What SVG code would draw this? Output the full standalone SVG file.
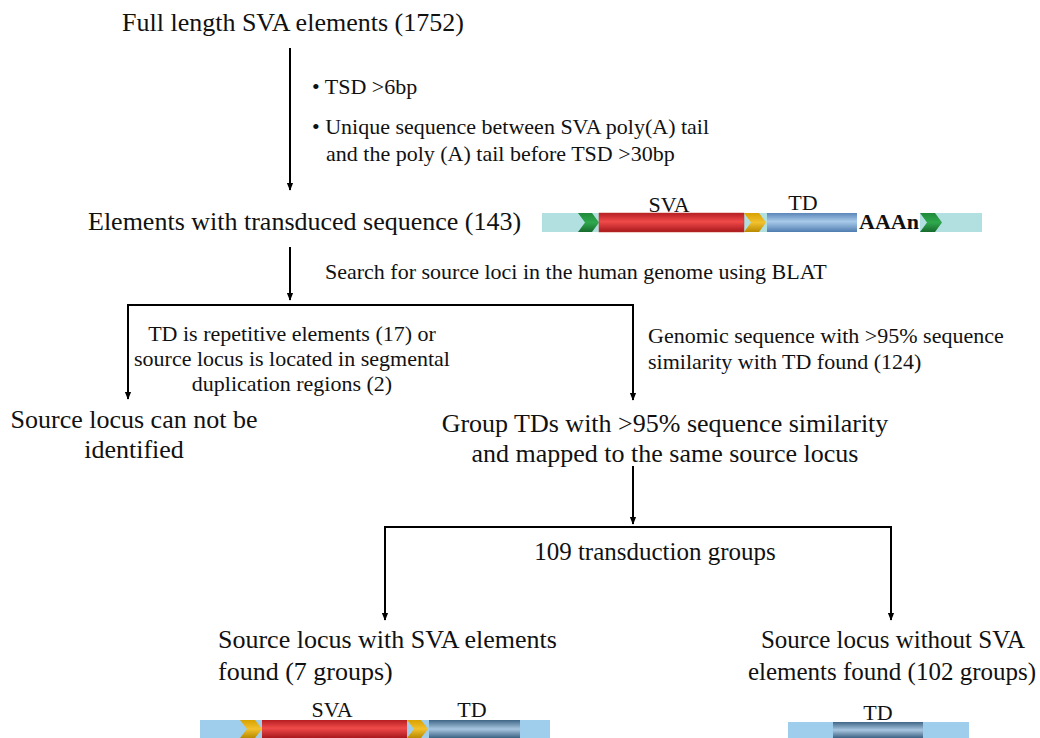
<svg xmlns="http://www.w3.org/2000/svg" width="1040" height="738" viewBox="0 0 1040 738">
<defs>
<style>
text{font-family:"Liberation Serif","Times New Roman",serif;fill:#111}
.big{font-size:26px}
.big2{font-size:25px}
.lbl{font-size:22px}
.bold{font-weight:bold}
.ln{stroke:#000;stroke-width:2;fill:none}
</style>
<marker id="ah" viewBox="0 0 10 10" refX="9" refY="5" markerWidth="8" markerHeight="8" orient="auto" markerUnits="userSpaceOnUse">
<path d="M0,1 L10,5 L0,9 z" fill="#000"/>
</marker>
<linearGradient id="red" x1="0" y1="0" x2="0" y2="1">
<stop offset="0" stop-color="#b51e22"/><stop offset="0.45" stop-color="#f04a4a"/><stop offset="1" stop-color="#a8181c"/>
</linearGradient>
<linearGradient id="blue" x1="0" y1="0" x2="0" y2="1">
<stop offset="0" stop-color="#5a86b8"/><stop offset="0.45" stop-color="#a9cbea"/><stop offset="1" stop-color="#4f7caf"/>
</linearGradient>
<linearGradient id="steel" x1="0" y1="0" x2="0" y2="1">
<stop offset="0" stop-color="#3f6687"/><stop offset="0.5" stop-color="#a8c6e0"/><stop offset="1" stop-color="#3c6283"/>
</linearGradient>
<linearGradient id="green" x1="0" y1="0" x2="0" y2="1">
<stop offset="0" stop-color="#1f8a3a"/><stop offset="0.5" stop-color="#2fa84d"/><stop offset="1" stop-color="#176b2d"/>
</linearGradient>
<linearGradient id="yellow" x1="0" y1="0" x2="0" y2="1">
<stop offset="0" stop-color="#d9a200"/><stop offset="0.5" stop-color="#f2c12e"/><stop offset="1" stop-color="#b98a00"/>
</linearGradient>
</defs>
<rect width="1040" height="738" fill="#fff"/>

<g id="connectors">
<line class="ln" x1="290" y1="48" x2="290" y2="190" marker-end="url(#ah)"/>
<line class="ln" x1="290" y1="247" x2="290" y2="300" marker-end="url(#ah)"/>
<path class="ln" d="M128,305 H633"/>
<line class="ln" x1="128" y1="304" x2="128" y2="399" marker-end="url(#ah)"/>
<line class="ln" x1="633" y1="304" x2="633" y2="400" marker-end="url(#ah)"/>
<line class="ln" x1="633" y1="466" x2="633" y2="524" marker-end="url(#ah)"/>
<path class="ln" d="M385,527 H891"/>
<line class="ln" x1="385" y1="526" x2="385" y2="620" marker-end="url(#ah)"/>
<line class="ln" x1="891" y1="526" x2="891" y2="620" marker-end="url(#ah)"/>
</g>

<g id="n-full">
<text class="big" x="122" y="31">Full length SVA elements (1752)</text>
</g>
<g id="l-filter">
<text class="lbl" x="312" y="94">• TSD &gt;6bp</text>
<text class="lbl" x="312" y="134">• Unique sequence between SVA poly(A) tail</text>
<text class="lbl" x="326" y="161">and the poly (A) tail before TSD &gt;30bp</text>
</g>
<g id="n-elements">
<text class="big" x="88" y="230">Elements with transduced sequence (143)</text>
</g>
<g id="fig-top">
<rect x="542" y="213" width="440" height="19" fill="#b2dfe0"/>
<polygon points="578,213 592,213 599,222.5 592,232 578,232 585,222.5" fill="url(#green)"/>
<rect x="599" y="213" width="145" height="19" fill="url(#red)" stroke="#c0392b" stroke-width="0.5"/>
<polygon points="744,213 759,213 766,222.5 759,232 744,232 751,222.5" fill="url(#yellow)"/>
<rect x="767" y="213" width="90" height="19" fill="url(#blue)"/>
<rect x="857" y="213" width="63" height="19" fill="#fff"/>
<text class="lbl bold" x="889" y="229" text-anchor="middle">AAAn</text>
<polygon points="920,213 935,213 942,222.5 935,232 920,232 927,222.5" fill="url(#green)"/>
<text class="lbl" x="669" y="212" text-anchor="middle">SVA</text>
<text class="lbl" x="803" y="210" text-anchor="middle">TD</text>
</g>
<g id="l-search">
<text class="lbl" x="325" y="279">Search for source loci in the human genome using BLAT</text>
</g>
<g id="l-left">
<text class="lbl" x="292" y="341" text-anchor="middle">TD is repetitive elements (17) or</text>
<text class="lbl" x="292" y="366" text-anchor="middle">source locus is located in segmental</text>
<text class="lbl" x="292" y="391" text-anchor="middle">duplication regions (2)</text>
</g>
<g id="n-unid">
<text class="big" x="134" y="428" text-anchor="middle">Source locus can not be</text>
<text class="big" x="134" y="458" text-anchor="middle">identified</text>
</g>
<g id="l-right">
<text class="lbl" x="648" y="343">Genomic sequence with &gt;95% sequence</text>
<text class="lbl" x="648" y="369">similarity with TD found  (124)</text>
</g>
<g id="n-group">
<text class="big" x="665" y="432" text-anchor="middle">Group TDs with &gt;95% sequence similarity</text>
<text class="big" x="665" y="462" text-anchor="middle">and mapped to the same source locus</text>
</g>
<g id="l-109">
<text class="big2" x="655" y="560" text-anchor="middle">109 transduction groups</text>
</g>
<g id="n-with">
<text class="big" x="218" y="648">Source locus with SVA elements</text>
<text class="big" x="218" y="680">found (7 groups)</text>
</g>
<g id="n-without">
<text class="big2" x="893" y="648" text-anchor="middle">Source locus without SVA</text>
<text class="big2" x="892" y="680" text-anchor="middle">elements found (102 groups)</text>
</g>
<g id="fig-left">
<rect x="200" y="720" width="350" height="18" fill="#9fcdec"/>
<polygon points="240,720 255,720 262,729 255,738 240,738 247,729" fill="url(#yellow)"/>
<rect x="262" y="720" width="145" height="18" fill="url(#red)"/>
<polygon points="407,720 421,720 428,729 421,738 407,738 414,729" fill="url(#yellow)"/>
<rect x="429" y="720" width="91" height="18" fill="url(#steel)"/>
<text class="lbl" x="332" y="717" text-anchor="middle">SVA</text>
<text class="lbl" x="472" y="717" text-anchor="middle">TD</text>
</g>
<g id="fig-right">
<rect x="788" y="722" width="181" height="16" fill="#9fcdec"/>
<rect x="833" y="722" width="90" height="16" fill="url(#steel)"/>
<text class="lbl" x="878" y="720" text-anchor="middle">TD</text>
</g>
</svg>
